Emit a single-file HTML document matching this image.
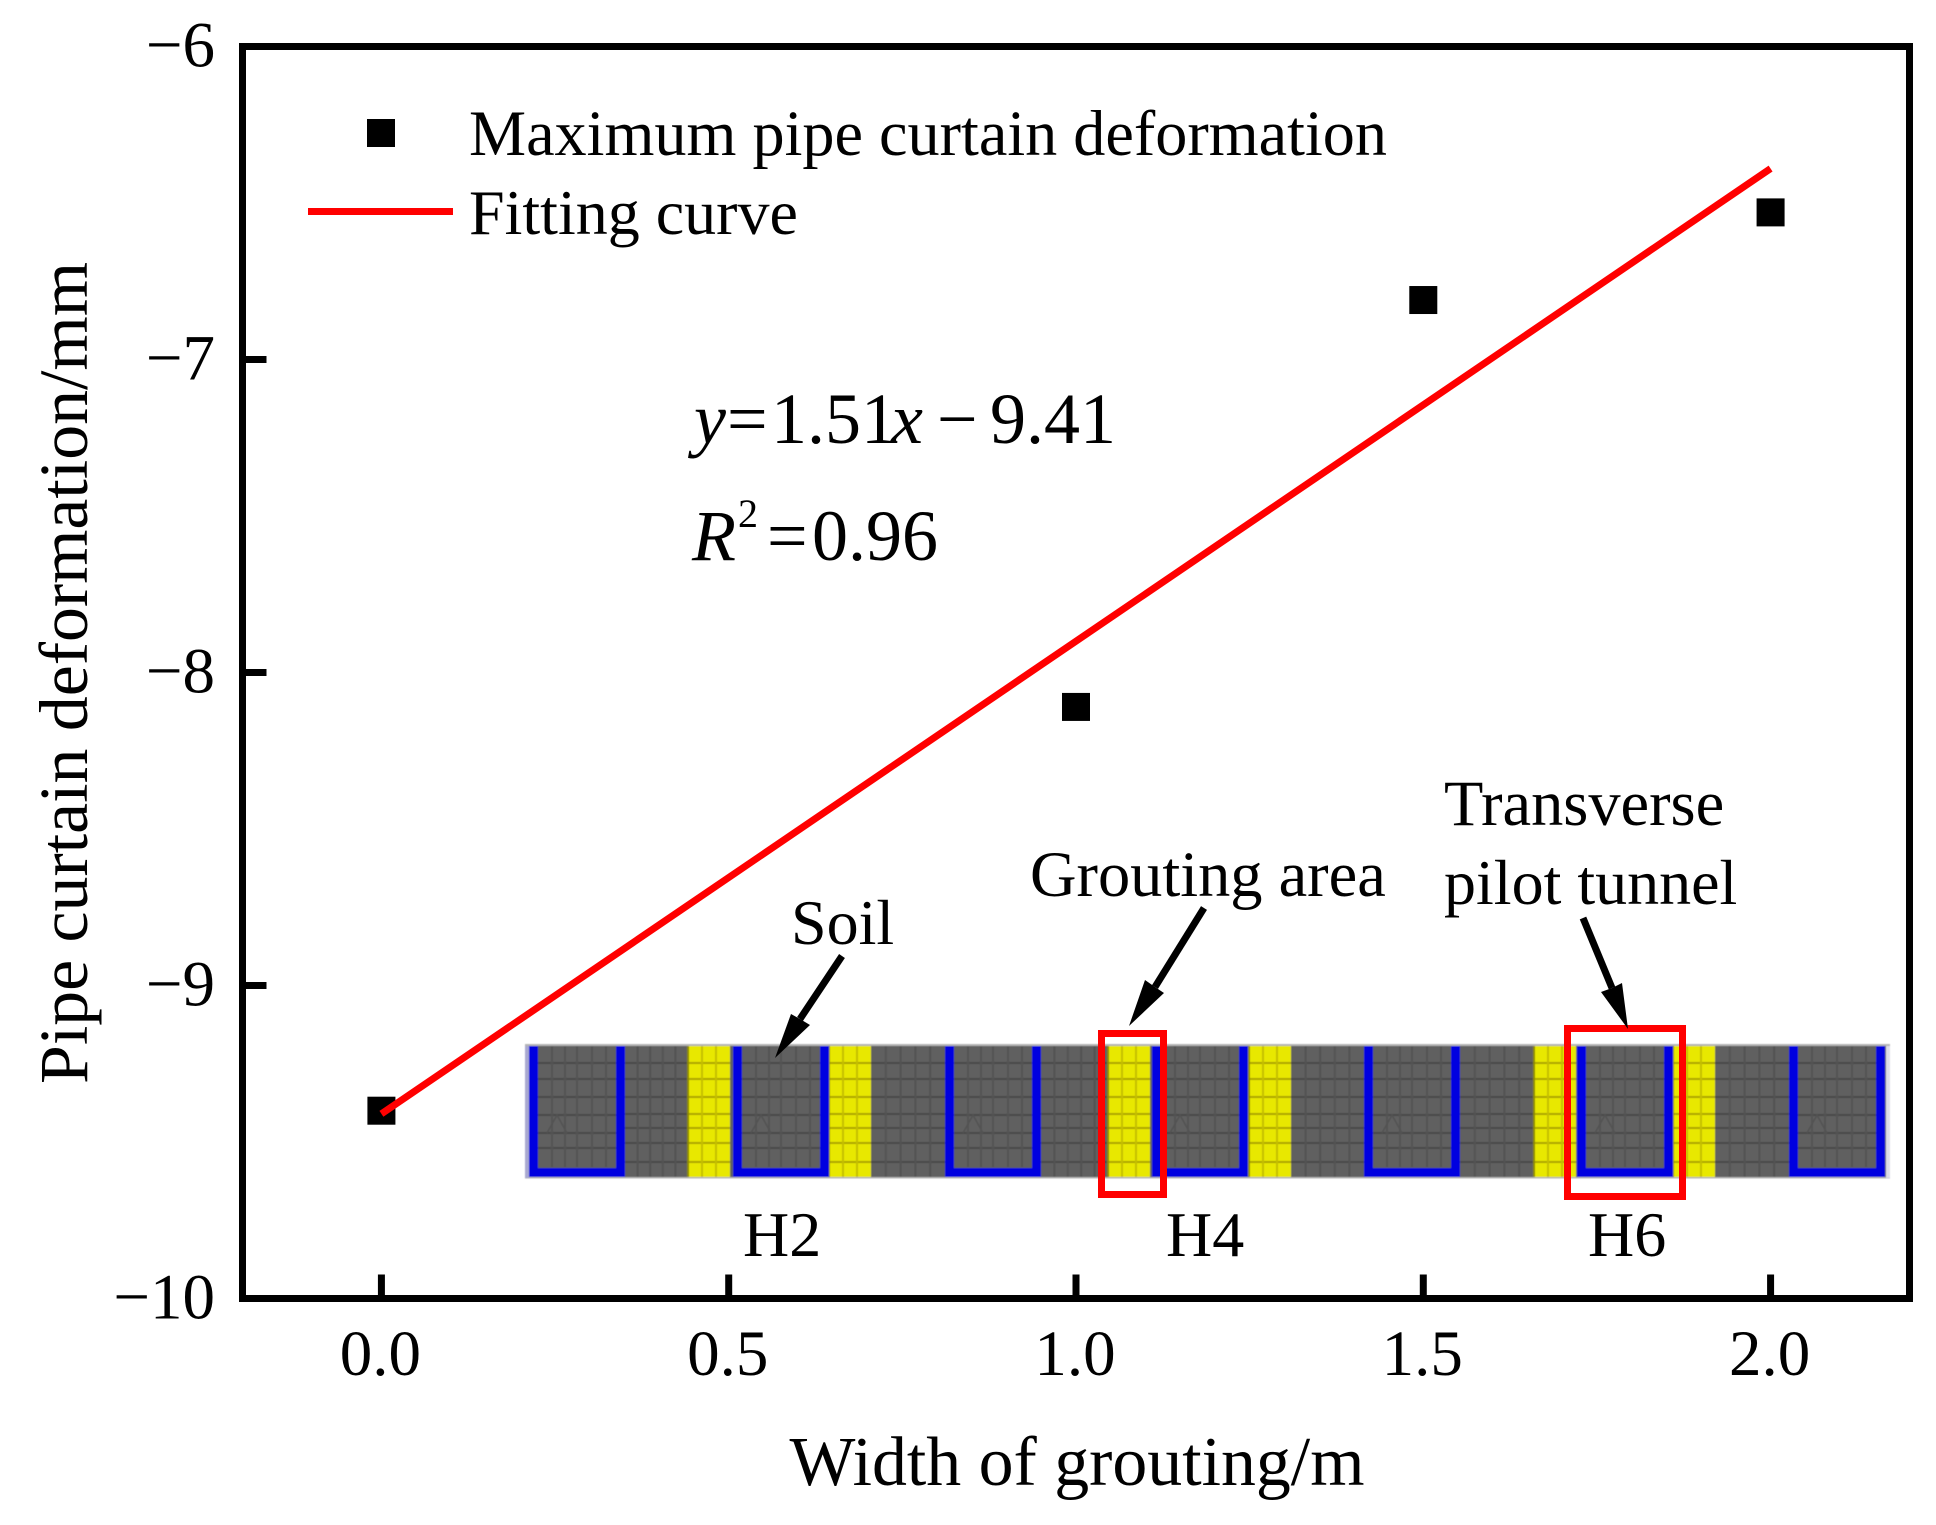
<!DOCTYPE html>
<html lang="en">
<head>
<meta charset="utf-8">
<title>Pipe curtain deformation vs width of grouting</title>
<style>
html,body{margin:0;padding:0;background:#fff}
svg{display:block}
text{font-family:"Liberation Serif","Times New Roman",serif;fill:#000}
</style>
</head>
<body>
<svg id="chart" xmlns="http://www.w3.org/2000/svg" width="1936" height="1525" viewBox="0 0 1936 1525">
  <defs>
    <filter id="soften" x="-2%" y="-5%" width="104%" height="110%"><feGaussianBlur stdDeviation="0.6"/></filter>
  </defs>
  <rect x="0" y="0" width="1936" height="1525" fill="#fff"/>

  <g id="inset" filter="url(#soften)"></g>
  <g id="ticks"></g>
  <rect x="242.5" y="46.5" width="1667" height="1252" fill="none" stroke="#000" stroke-width="7"/>
  <g id="tick-labels" font-size="65"></g>
  <g id="marks"></g>

  <text x="1077" y="1485" font-size="69.5" text-anchor="middle" textLength="575" lengthAdjust="spacingAndGlyphs">Width of grouting/m</text>
  <text transform="translate(87,1084) rotate(-90)" font-size="69" textLength="822" lengthAdjust="spacingAndGlyphs">Pipe curtain deformation/mm</text>

  <g>
    <rect x="367" y="119" width="28" height="28" fill="#000"/>
    <text x="469" y="155" font-size="64.2">Maximum pipe curtain deformation</text>
    <line x1="308" y1="211.5" x2="453" y2="211.5" stroke="#f00" stroke-width="7"/>
    <text x="469" y="234" font-size="64">Fitting curve</text>
  </g>

  <text y="443" font-size="72"><tspan x="694" font-style="italic">y</tspan><tspan x="727">=</tspan><tspan x="771">1.51</tspan><tspan x="891" font-style="italic">x</tspan><tspan x="937">−</tspan><tspan x="990">9.41</tspan></text>
  <text y="560" font-size="72"><tspan x="692" font-style="italic">R</tspan><tspan x="738" y="527" font-size="40">2</tspan><tspan x="767" y="560">=</tspan><tspan x="812">0.96</tspan></text>

  <rect x="1101.5" y="1033.5" width="62" height="161" fill="none" stroke="#f00" stroke-width="7"/>
  <rect x="1567.5" y="1028.5" width="115" height="168" fill="none" stroke="#f00" stroke-width="7"/>

  <text x="791" y="944" font-size="64">Soil</text>
  <text x="1030" y="896" font-size="64.4">Grouting area</text>
  <text x="1444" y="825" font-size="64.4">Transverse</text>
  <text x="1444" y="904" font-size="64">pilot tunnel</text>
  <text x="743" y="1256" font-size="64">H2</text>
  <text x="1166" y="1256" font-size="64">H4</text>
  <text x="1588" y="1256" font-size="64">H6</text>

  <g>
    <line x1="842" y1="956" x2="800" y2="1019" stroke="#000" stroke-width="7"/>
    <polygon points="775,1058 791,1014 800,1019 810,1025" fill="#000"/>
  </g>
  <g>
    <line x1="1204" y1="908" x2="1155" y2="987" stroke="#000" stroke-width="7"/>
    <polygon points="1129,1026 1145,980 1155,987 1164,993" fill="#000"/>
  </g>
  <g>
    <line x1="1583" y1="918" x2="1612" y2="988" stroke="#000" stroke-width="7"/>
    <polygon points="1628,1029 1601,992 1612,988 1622,983" fill="#000"/>
  </g>
</svg>

<script>
// Chart data
var xValues = [0, 1, 1.5, 2];
var yValues = [-9.4, -8.11, -6.81, -6.53];
var fitX = [0, 2];
var fitY = [-9.41, -6.39];
var xTickValues = [0, 0.5, 1, 1.5, 2];
var xTickLabels = ['0.0', '0.5', '1.0', '1.5', '2.0'];
var yTickValues = [-6, -7, -8, -9, -10];
var yTickLabels = ['−6', '−7', '−8', '−9', '−10'];
var xDomain = [-0.2, 2.2];
var yDomain = [-10, -6];

var SVGNS = 'http://www.w3.org/2000/svg';
var plot = {left: 242.5, right: 1909.5, top: 46.5, bottom: 1298.5};

function xScale(v) {
  return plot.left + (v - xDomain[0]) / (xDomain[1] - xDomain[0]) * (plot.right - plot.left);
}
function yScale(v) {
  return plot.bottom - (v - yDomain[0]) / (yDomain[1] - yDomain[0]) * (plot.bottom - plot.top);
}
function make(tag, attrs, parent) {
  var el = document.createElementNS(SVGNS, tag);
  for (var k in attrs) { el.setAttribute(k, attrs[k]); }
  parent.appendChild(el);
  return el;
}

var ticksG = document.getElementById('ticks');
var labelsG = document.getElementById('tick-labels');
var marksG = document.getElementById('marks');
var insetG = document.getElementById('inset');

xTickValues.forEach(function (v, i) {
  var tick = make('line', {x1: xScale(v), x2: xScale(v), y1: plot.bottom, y2: plot.bottom - 24, stroke: '#000', 'stroke-width': 7}, ticksG);
  
  
  var label = make('text', {x: xScale(v) - 1, y: 1375, 'text-anchor': 'middle'}, labelsG);
  label.textContent = xTickLabels[i];
  
  
});

yTickValues.forEach(function (v, i) {
  var tick = make('line', {x1: plot.left, x2: plot.left + 24, y1: yScale(v), y2: yScale(v), stroke: '#000', 'stroke-width': 7}, ticksG);
  
  
  var label = make('text', {x: 215, y: yScale(v) + 20, 'text-anchor': 'end'}, labelsG);
  label.textContent = yTickLabels[i];
  
  
});

xValues.forEach(function (v, i) {
  var point = make('rect', {x: xScale(v) - 14, y: yScale(yValues[i]) - 14, width: 28, height: 28, fill: '#000'}, marksG);
  
  
});

var fitLine = make('line', {x1: xScale(fitX[0]), y1: yScale(fitY[0]), x2: xScale(fitX[1]), y2: yScale(fitY[1]), stroke: '#f00', 'stroke-width': 7}, marksG);



// Inset illustration (finite-element mesh picture)
var tunnelLefts = [529, 733, 945, 1152, 1364, 1577, 1789];
var groutLefts = [688, 829, 1108, 1249, 1534, 1673];
var soilGaps = [[625, 688], [871, 945], [1041, 1108], [1291, 1364], [1460, 1534], [1715, 1789]];
var meshRows = [1063, 1079, 1097, 1114, 1128, 1143, 1162];
var innerRows = [1063, 1079, 1097, 1115, 1133, 1148];
var innerCols = [14, 27, 39, 54, 68];

function meshLine(x1, y1, x2, y2, color) {
  make('line', {x1: x1, y1: y1, x2: x2, y2: y2, stroke: color, 'stroke-width': 2}, insetG);
}

var base = make('rect', {x: 525, y: 1044, width: 1365, height: 134, fill: '#606060'}, insetG);


make('rect', {x: 525, y: 1044, width: 1365, height: 2, fill: '#b4b4b4'}, insetG);
make('rect', {x: 525, y: 1177, width: 1365, height: 1.5, fill: '#b4b4b4'}, insetG);
var edgeLeft = make('rect', {x: 525, y: 1046, width: 4, height: 132, fill: '#a8a8d0'}, insetG);


var edgeRight = make('rect', {x: 1886, y: 1046, width: 4, height: 132, fill: '#dcdce8'}, insetG);



soilGaps.forEach(function (gap) {
  meshRows.forEach(function (ry) { meshLine(gap[0], ry, gap[1], ry, '#4a4a4a'); });
  var n = 4;
  for (var c = 1; c <= n; c++) {
    var cx = gap[0] + (gap[1] - gap[0]) * c / (n + 1);
    meshLine(cx, 1046, cx, 1177, '#525252');
  }
});

groutLefts.forEach(function (gx) {
  var band = make('rect', {x: gx, y: 1046, width: 42, height: 131, fill: '#e8e800'}, insetG);
  
  
  meshRows.forEach(function (ry) { meshLine(gx, ry, gx + 42, ry, '#aaa400'); });
  meshLine(gx + 14, 1046, gx + 14, 1177, '#c4be00');
  meshLine(gx + 28, 1046, gx + 28, 1177, '#c4be00');
  meshLine(gx, 1046, gx, 1177, '#8c8800');
});

tunnelLefts.forEach(function (tx) {
  innerRows.forEach(function (ry) { meshLine(tx + 9, ry, tx + 87, ry, '#4a4a4a'); });
  innerCols.forEach(function (off) { meshLine(tx + 9 + off, 1046, tx + 9 + off, 1167, '#525252'); });
  make('polyline', {points: (tx + 18) + ',1133 ' + (tx + 28) + ',1115 ' + (tx + 38) + ',1133', fill: 'none', stroke: '#525252', 'stroke-width': 1.5}, insetG);
  var wall = make('path', {d: 'M' + (tx + 4.5) + ' 1046 V1172.5 H' + (tx + 91.5) + ' V1046', fill: 'none', stroke: '#0000e0', 'stroke-width': 9}, insetG);
  
  
});
</script>
</body>
</html>
